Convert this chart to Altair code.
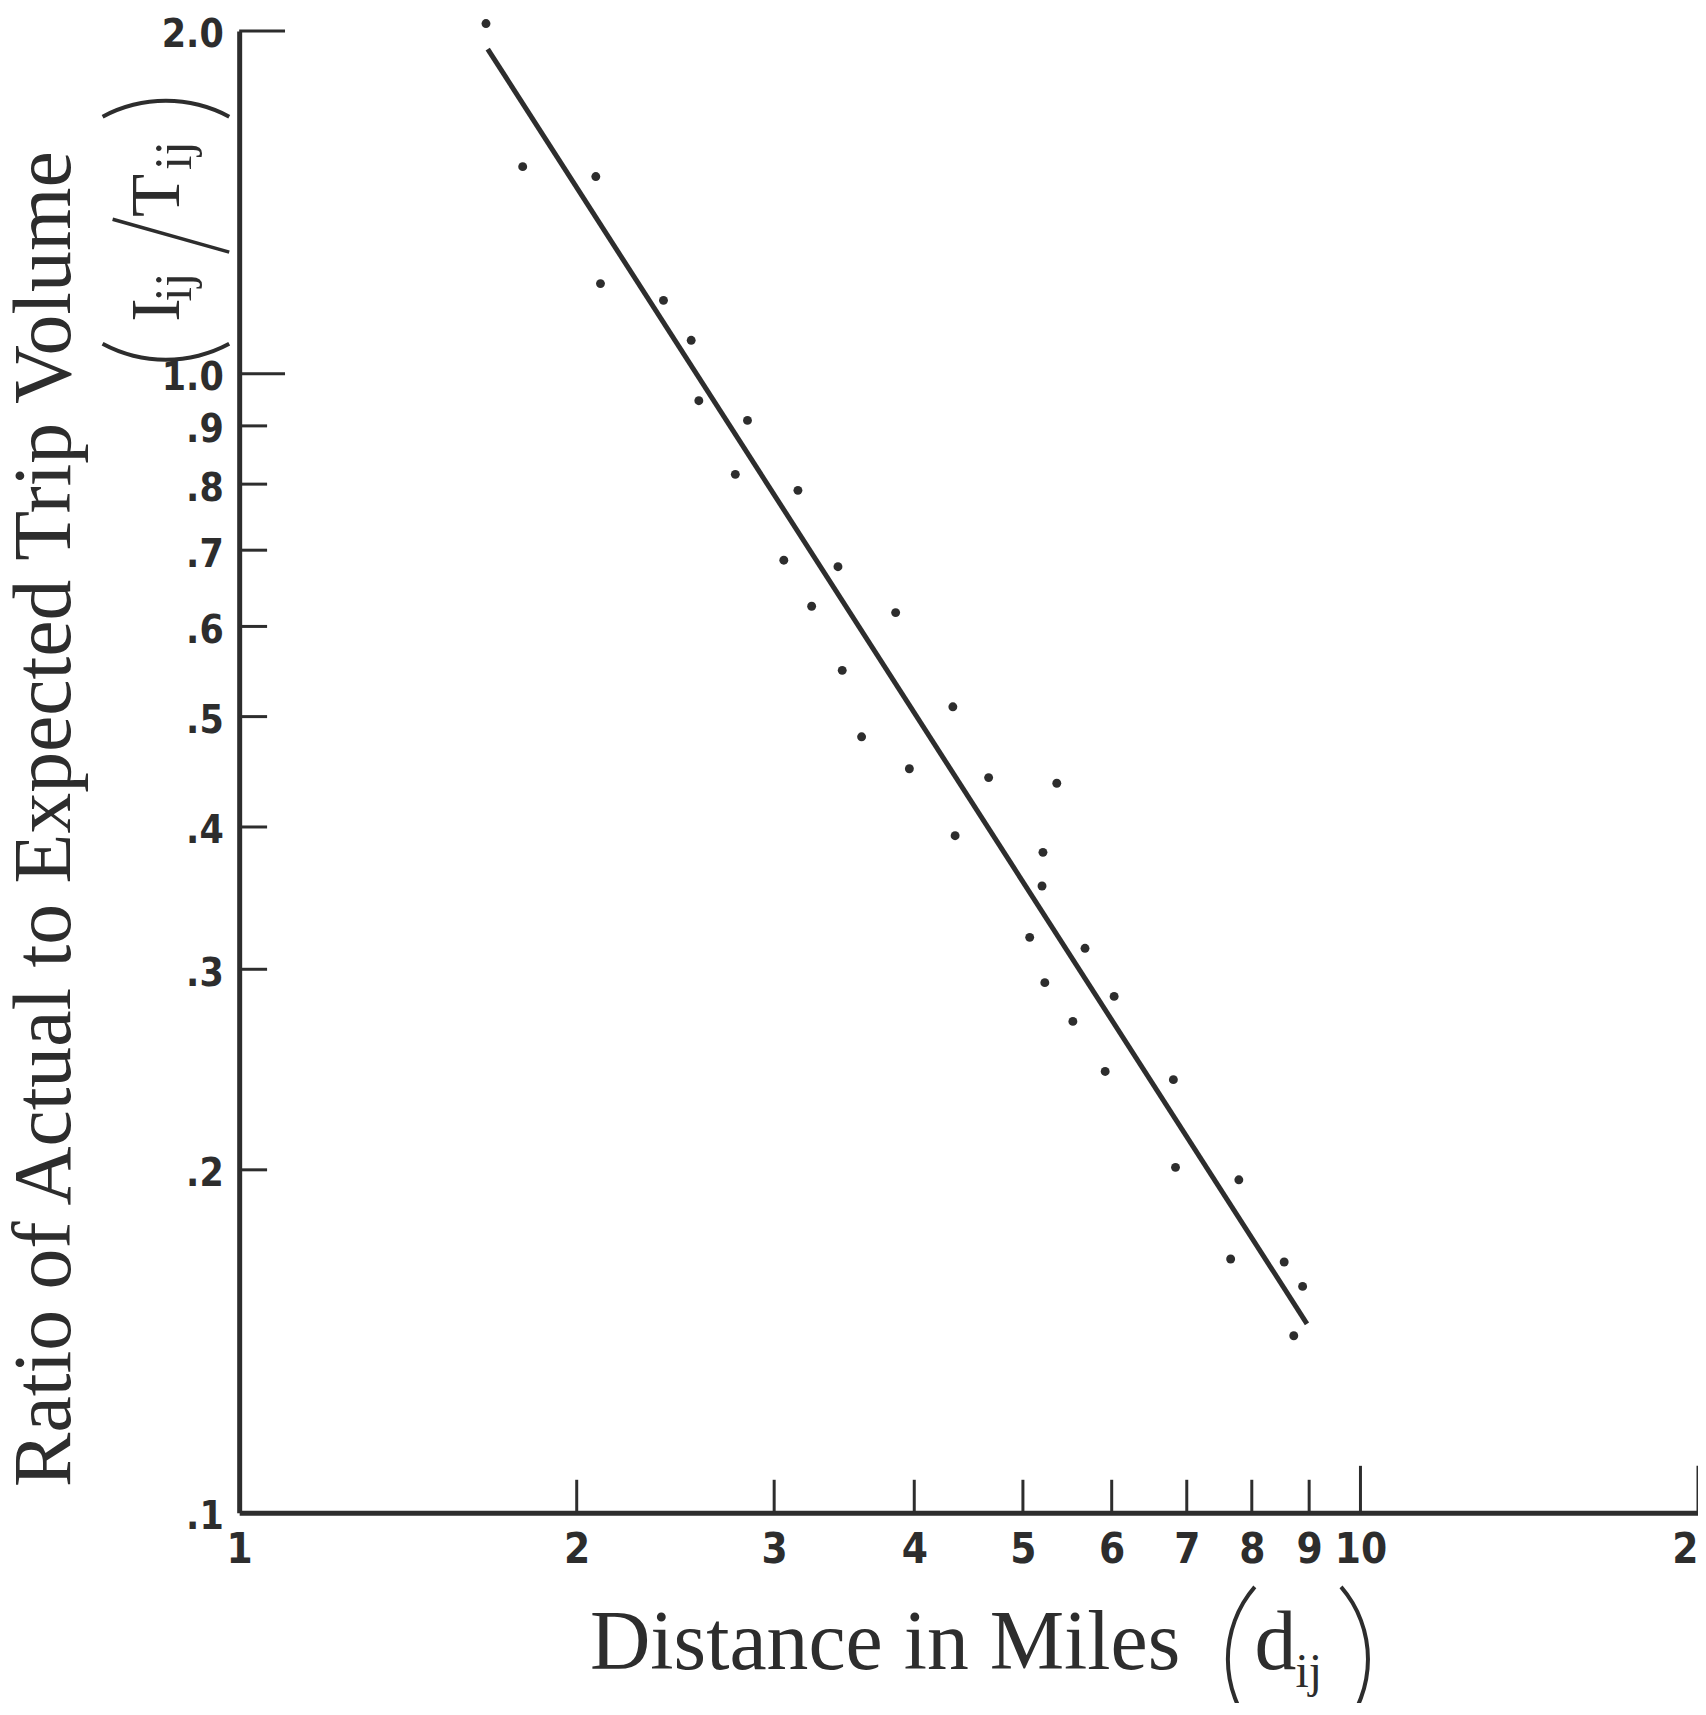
import altair as alt
import pandas as pd

# ---- data ----
dist = [1.66, 1.79, 2.08, 2.10, 2.39, 2.53, 2.57, 2.84, 2.77, 3.15, 3.06, 3.42,
        3.24, 3.85, 3.45, 4.33, 3.59, 3.96, 4.66, 5.36, 4.35, 5.21, 5.20, 5.07,
        5.68, 5.23, 6.03, 5.54, 5.92, 6.81, 6.84, 7.79, 7.66, 8.55, 8.88, 8.72]
ratio = [2.03, 1.52, 1.49, 1.20, 1.16, 1.07, 0.947, 0.910, 0.816, 0.790, 0.686, 0.677,
         0.625, 0.617, 0.549, 0.510, 0.480, 0.450, 0.442, 0.437, 0.393, 0.380, 0.355, 0.320,
         0.313, 0.292, 0.284, 0.270, 0.244, 0.240, 0.201, 0.196, 0.167, 0.166, 0.158, 0.143]
fit_dist = [1.666, 8.96]
fit_ratio = [1.928, 0.1465]

x_ticks = [1, 2, 3, 4, 5, 6, 7, 8, 9, 10, 20]
y_ticks = [0.1, 0.2, 0.3, 0.4, 0.5, 0.6, 0.7, 0.8, 0.9, 1.0, 2.0]
x_minor = [2, 3, 4, 5, 6, 7, 8, 9]
x_major = [10, 20]
y_minor = [0.2, 0.3, 0.4, 0.5, 0.6, 0.7, 0.8, 0.9]
y_major = [1.0, 2.0]

# ---- styling ----
W, H = 1464, 1487
INK = "#2d2d2d"
SERIF = "Liberation Serif"
COND = "'Liberation Sans Narrow', 'DejaVu Sans Condensed', 'Roboto Condensed', 'Liberation Sans', sans-serif"

xscale = alt.Scale(type="log", domain=[1, 20], nice=False)
yscale = alt.Scale(type="log", domain=[0.1, 2.0], nice=False)

x_axis = alt.Axis(values=x_ticks, format="d", title=None, grid=False, ticks=False,
                  tickSize=0, domainColor=INK, domainWidth=5, labelFont=COND,
                  labelFontWeight="bold", labelFontSize=42, labelColor=INK,
                  labelPadding=17, labelFlush=False, labelOverlap=False, labelBound=False)
y_axis = alt.Axis(values=y_ticks,
                  labelExpr="datum.value < 1 ? '.' + format(datum.value * 10, '.0f') : format(datum.value, '.1f')",
                  title=None, grid=False, ticks=False, tickSize=0, domainColor=INK,
                  domainWidth=5, labelFont=COND, labelFontWeight="bold",
                  labelFontSize=39, labelColor=INK, labelPadding=16, labelOffset=4,
                  labelOverlap=False, labelBound=False)

X = alt.X("dist:Q", scale=xscale, axis=x_axis)
Y = alt.Y("ratio:Q", scale=yscale, axis=y_axis)

pts_df = pd.DataFrame({"dist": dist, "ratio": ratio})
fit_df = pd.DataFrame({"dist": fit_dist, "ratio": fit_ratio})

points = alt.Chart(pts_df).mark_circle(size=80, color=INK, opacity=1).encode(x=X, y=Y)
line = alt.Chart(fit_df).mark_line(color=INK, strokeWidth=5).encode(x=X, y=Y)

xt_minor = alt.Chart(pd.DataFrame({"dist": x_minor})).mark_rule(color=INK, strokeWidth=3).encode(
    x=X, y=alt.value(H), y2=alt.value(H - 33))
xt_major = alt.Chart(pd.DataFrame({"dist": x_major})).mark_rule(color=INK, strokeWidth=3).encode(
    x=X, y=alt.value(H), y2=alt.value(H - 47))
yt_minor = alt.Chart(pd.DataFrame({"ratio": y_minor})).mark_rule(color=INK, strokeWidth=3).encode(
    y=Y, x=alt.value(0), x2=alt.value(28))
yt_major = alt.Chart(pd.DataFrame({"ratio": y_major})).mark_rule(color=INK, strokeWidth=3).encode(
    y=Y, x=alt.value(0), x2=alt.value(46))

one = pd.DataFrame({"t": [0]})


def txt(s, x, y, size, angle=0, align="center", font=SERIF):
    kw = dict(text=s, font=font, fontSize=size, color=INK, align=align, baseline="alphabetic")
    if angle:
        kw["angle"] = angle
    return alt.Chart(one).mark_text(**kw).encode(x=alt.value(x), y=alt.value(y))


def paren(cx, cy, r, t0, t1, w=4):
    # thin tall bracket drawn as a circular arc
    return alt.Chart(one).mark_arc(color=INK, theta=t0, theta2=t1,
                                   radius=r + w / 2, radius2=r - w / 2).encode(
        x=alt.value(cx), y=alt.value(cy))


titles = [
    # y title
    txt("Ratio of Actual to Expected Trip Volume", -170, 791, 82, angle=270),
    paren(-73.5, 196, 134, 2.648, 3.636),
    txt("I", -60, 280, 71, angle=270),
    txt("ij", -48, 257, 52, angle=270),
    alt.Chart(one).mark_rule(color=INK, strokeWidth=3.5).encode(
        x=alt.value(-127), y=alt.value(189), x2=alt.value(-10), y2=alt.value(222)),
    txt("T", -60, 165, 71, angle=270),
    txt("ij", -48, 125, 52, angle=270),
    paren(-73.5, 204, 134, 5.789, 6.777),
    # x title
    txt("Distance in Miles", 352, 1644, 84, align="left"),
    paren(1103, 1634, 110.8, 3.998, 5.426),
    txt("d", 1019, 1644, 84, align="left"),
    txt("ij", 1060, 1662, 48, align="left"),
    paren(1022, 1634, 110.8, 0.857, 2.285),
]

chart = alt.layer(line, xt_minor, xt_major, yt_minor, yt_major, points, *titles).properties(
    width=W, height=H,
    background="white",
    autosize=alt.AutoSizeParams(type="none"),
    padding={"left": 232, "top": 20, "right": 0, "bottom": 188},
).configure_view(strokeWidth=0)

chart.save("out.html", embed_options={"renderer": "svg", "actions": False})
